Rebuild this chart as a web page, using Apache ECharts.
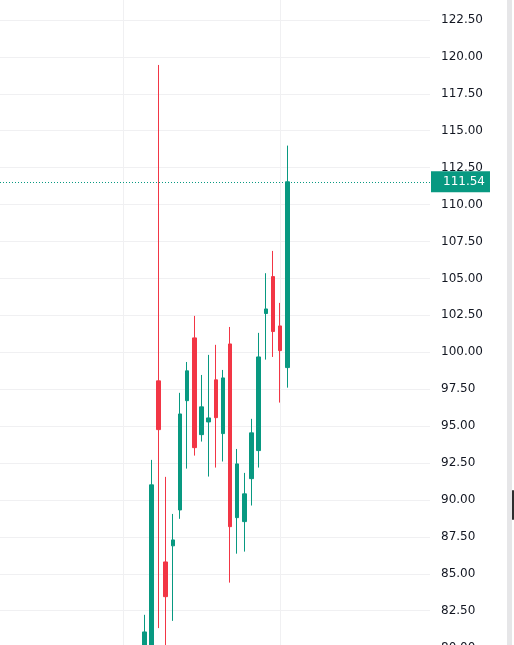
<!DOCTYPE html>
<html>
<head>
<meta charset="utf-8">
<script src="https://cdn.jsdelivr.net/npm/echarts@6/dist/echarts.min.js"></script>
<style>
  html, body { margin: 0; padding: 0; background: #fff; }
  #chart { width: 514px; height: 645px; }
</style>
</head>
<body>
<div id="chart"></div>
<script>
// trading days (index)
var dayIndex = [0, 1, 2, 3, 4, 5, 6, 7, 8, 9, 10, 11, 12, 13, 14, 15, 16, 17, 18, 19, 20];
var opens  = [79.4, 79.8, 98.06, 85.80, 86.89, 89.32, 96.72, 100.97, 94.42, 95.28, 98.13, 94.49, 100.56, 88.80, 88.53, 91.44, 93.34, 102.62, 105.12, 101.78, 98.96];
var closes = [81.06, 91.02, 94.76, 83.45, 87.29, 95.82, 98.74, 93.54, 96.30, 95.55, 95.57, 98.26, 88.19, 92.44, 90.41, 94.54, 99.68, 102.93, 101.40, 100.11, 111.54];
var lows   = [78.8, 79.2, 81.32, 79.9, 81.81, 88.72, 92.12, 93.00, 93.95, 91.58, 92.19, 92.60, 84.40, 86.36, 86.50, 89.62, 92.19, 99.50, 99.68, 96.59, 97.60];
var highs  = [82.22, 92.71, 119.45, 91.56, 89.05, 97.25, 99.34, 102.46, 98.46, 99.82, 100.50, 98.80, 101.71, 93.45, 91.83, 95.49, 101.31, 105.35, 106.86, 103.34, 113.99];
// month separators (in day index units)
var monthLines = [-3, 19];

var upColor = "#089981";
var downColor = "#f23645";
var gridColor = "#f0f0f2";
var lastPrice = closes[closes.length - 1];

var chart = echarts.init(document.getElementById("chart"));

var candles = dayIndex.map(function (d, i) {
  return [d, opens[i], closes[i], lows[i], highs[i]];
});

var lines = monthLines.map(function (d) {
  return {
    xAxis: d,
    lineStyle: { color: gridColor, type: "solid", width: 1 },
    label: { show: false }
  };
});
lines.push({
  yAxis: lastPrice,
  lineStyle: { color: upColor, type: [1, 2], width: 1 },
  label: {
    show: true,
    position: "end",
    distance: 1,
    formatter: lastPrice.toFixed(2),
    backgroundColor: upColor,
    color: "#fff",
    fontFamily: "DejaVu Sans",
    fontSize: 12,
    lineHeight: 15,
    padding: [3, 5, 3, 12]
  }
});

var option = {
  animation: false,
  backgroundColor: "#fff",
  grid: { left: 0, right: 84, top: -17, bottom: -2.6, outerBoundsMode: "none" },
  xAxis: {
    type: "value",
    min: -20.18,
    max: 39.96,
    show: false
  },
  yAxis: {
    type: "value",
    position: "right",
    min: 80,
    max: 125,
    interval: 2.5,
    axisLine: { show: false },
    axisTick: { show: false },
    splitLine: { lineStyle: { color: gridColor, width: 1 } },
    axisLabel: {
      margin: 11,
      color: "#131722",
      fontFamily: "DejaVu Sans",
      fontSize: 12,
      formatter: function (v) { return v.toFixed(2); }
    }
  },
  series: [
    {
      type: "candlestick",
      data: candles,
      barWidth: 4,
      itemStyle: {
        color: upColor,
        color0: downColor,
        borderColor: upColor,
        borderColor0: downColor,
        borderWidth: 1
      },
      markLine: {
        z: 1,
        silent: true,
        animation: false,
        symbol: ["none", "none"],
        data: lines
      }
    }
  ],
  // right edge strip of the widget
  graphic: [
    { type: "rect", shape: { x: 507, y: 0, width: 5, height: 645 }, style: { fill: "#e6e6e8" } },
    { type: "rect", shape: { x: 512, y: 490, width: 2, height: 30, r: 1 }, style: { fill: "#2e2e2e" } }
  ]
};

chart.setOption(option);
</script>
</body>
</html>
